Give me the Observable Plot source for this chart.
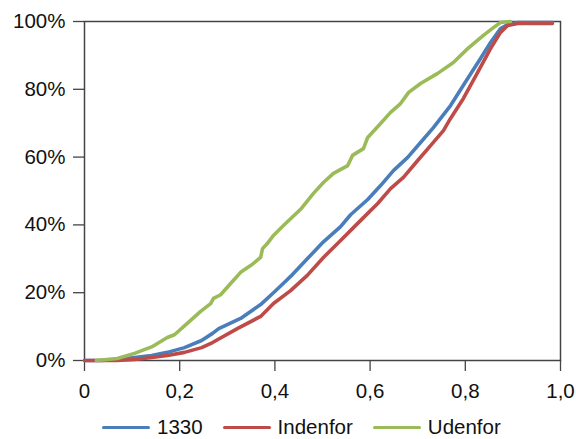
<!DOCTYPE html>
<html>
<head>
<meta charset="utf-8">
<script src="https://cdn.jsdelivr.net/npm/d3@7"></script>
<script src="https://cdn.jsdelivr.net/npm/@observablehq/plot@0.6"></script>
<style>
  body { margin: 0; background: #fff; font-family: "Liberation Sans", Arial, sans-serif; overflow: hidden; }
  #legend { display: flex; align-items: center; height: 21px; line-height: 1; margin-left: 102px; margin-top: 7px; font-size: 20.5px; color: #111; }
  #legend .item { display: flex; align-items: center; }
  #legend .swatch { width: 48px; height: 3.5px; border-radius: 2px; margin-right: 7px; }
  #legend .label { margin-right: 20px; }
</style>
</head>
<body>
<div id="chart"></div>
<div id="legend"></div>
<script>
// Series names and colours
const seriesNames = ["1330", "Indenfor", "Udenfor"];
const seriesColors = ["#4a7ebb", "#be4b48", "#9bbb59"];

// Cumulative share (y) by value (x) for each series
const x1330 = [0, 0.034, 0.069, 0.105, 0.141, 0.174, 0.210, 0.246, 0.269, 0.282, 0.328, 0.370, 0.397, 0.418, 0.433, 0.468, 0.502, 0.538, 0.559, 0.595, 0.622, 0.649, 0.679, 0.706, 0.733, 0.769, 0.805, 0.832, 0.853, 0.874, 0.889, 0.910, 0.983];
const y1330 = [0, 0, 0.003, 0.009, 0.015, 0.024, 0.038, 0.059, 0.080, 0.094, 0.124, 0.165, 0.200, 0.228, 0.248, 0.300, 0.350, 0.395, 0.430, 0.475, 0.516, 0.560, 0.599, 0.643, 0.687, 0.752, 0.832, 0.891, 0.938, 0.979, 0.991, 0.997, 0.997];

const xIndenfor = [0, 0.069, 0.105, 0.141, 0.174, 0.210, 0.246, 0.269, 0.321, 0.370, 0.397, 0.433, 0.468, 0.502, 0.538, 0.565, 0.595, 0.616, 0.643, 0.670, 0.700, 0.727, 0.754, 0.769, 0.796, 0.826, 0.853, 0.874, 0.889, 0.910, 0.983];
const yIndenfor = [0, 0, 0.003, 0.009, 0.015, 0.024, 0.038, 0.053, 0.094, 0.130, 0.168, 0.206, 0.251, 0.304, 0.354, 0.392, 0.434, 0.463, 0.507, 0.540, 0.590, 0.634, 0.678, 0.714, 0.773, 0.850, 0.920, 0.968, 0.988, 0.994, 0.994];

const xUdenfor = [0.025, 0.069, 0.105, 0.141, 0.174, 0.189, 0.210, 0.244, 0.265, 0.271, 0.286, 0.307, 0.328, 0.349, 0.370, 0.374, 0.384, 0.397, 0.418, 0.454, 0.481, 0.502, 0.523, 0.553, 0.563, 0.586, 0.595, 0.622, 0.643, 0.664, 0.681, 0.706, 0.742, 0.775, 0.805, 0.838, 0.859, 0.874, 0.895];
const yUdenfor = [0, 0.006, 0.021, 0.040, 0.068, 0.076, 0.102, 0.145, 0.168, 0.183, 0.194, 0.227, 0.260, 0.280, 0.304, 0.330, 0.345, 0.369, 0.398, 0.446, 0.493, 0.525, 0.552, 0.575, 0.605, 0.625, 0.658, 0.699, 0.732, 0.758, 0.791, 0.817, 0.847, 0.879, 0.920, 0.959, 0.982, 0.997, 1.0];

// Axis ticks
const xTicks = [0, 0.2, 0.4, 0.6, 0.8, 1.0];
const yTicks = [0, 0.2, 0.4, 0.6, 0.8, 1.0];
const xFormat = d => d === 0 ? "0" : d.toFixed(1).replace(".", ",");
const yFormat = d => Math.round(d * 100) + "%";

const toRows = (xs, ys, name) => xs.map((x, i) => ({x, y: ys[i], series: name}));
const rows1330 = toRows(x1330, y1330, seriesNames[0]);
const rowsIndenfor = toRows(xIndenfor, yIndenfor, seriesNames[1]);
const rowsUdenfor = toRows(xUdenfor, yUdenfor, seriesNames[2]);

const lineOpts = (color) => ({x: "x", y: "y", stroke: color, strokeWidth: 3.6, strokeLinejoin: "round", strokeLinecap: "round"});

const chart = Plot.plot({
  width: 576,
  height: 410,
  marginLeft: 84,
  marginRight: 16,
  marginTop: 21,
  marginBottom: 50,
  style: {fontFamily: "'Liberation Sans', Arial, sans-serif", fontSize: "20.5px", color: "#111", background: "#fff"},
  x: {domain: [0, 1], label: null},
  y: {domain: [0, 1], label: null},
  marks: [
    Plot.axisX({ticks: xTicks, tickSize: 11, tickPadding: 12, stroke: "#444", strokeWidth: 1.3,
      tickFormat: xFormat, label: null, fontSize: 20.5}),
    Plot.axisY({ticks: yTicks, tickSize: 11, tickPadding: 8, stroke: "#444", strokeWidth: 1.3,
      tickFormat: yFormat, label: null, fontSize: 20.5}),
    Plot.frame({stroke: "#444", strokeWidth: 1.5}),
    Plot.line(rows1330, lineOpts(seriesColors[0])),
    Plot.line(rowsIndenfor, lineOpts(seriesColors[1])),
    Plot.line(rowsUdenfor, lineOpts(seriesColors[2]))
  ]
});
document.getElementById("chart").appendChild(chart);

// Legend below the plot
const legend = document.getElementById("legend");
seriesNames.forEach((name, i) => {
  const item = document.createElement("div");
  item.className = "item";
  const sw = document.createElement("div");
  sw.className = "swatch";
  sw.style.background = seriesColors[i];
  const lab = document.createElement("span");
  lab.className = "label";
  lab.textContent = name;
  item.appendChild(sw);
  item.appendChild(lab);
  legend.appendChild(item);
});
</script>
</body>
</html>
